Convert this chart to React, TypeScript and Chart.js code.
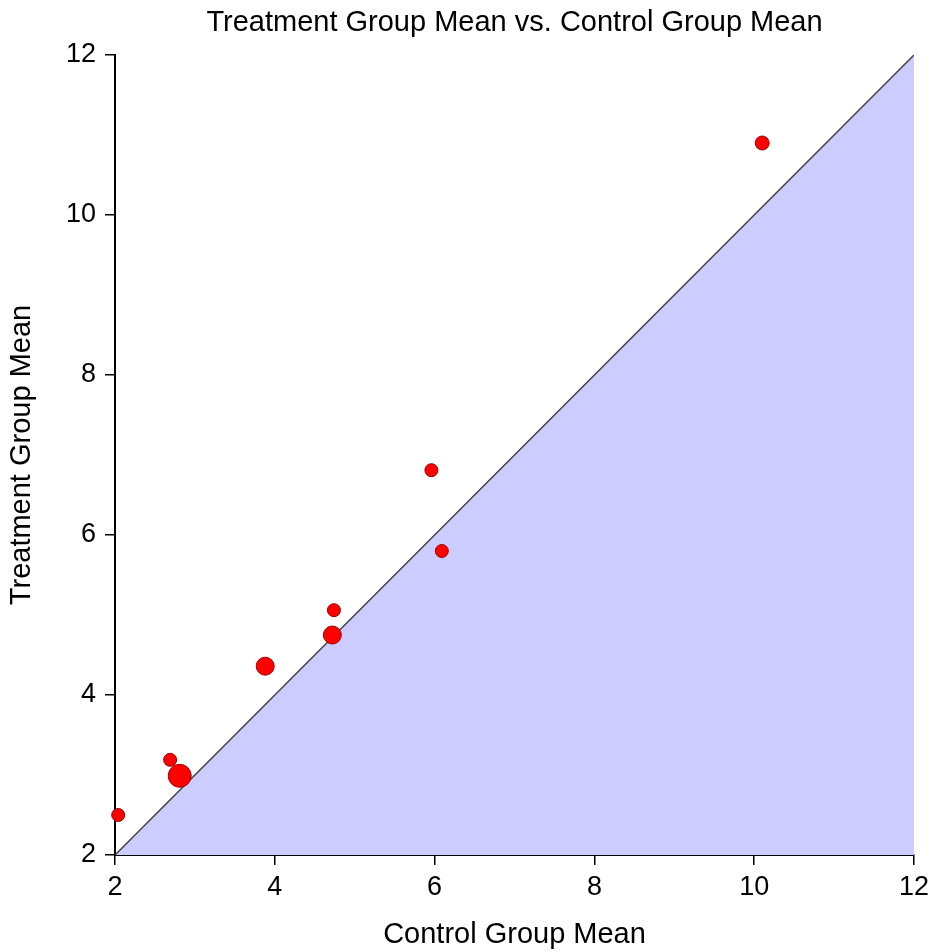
import React, { useEffect, useRef } from "react";
import { Chart, registerables } from "chart.js";

Chart.register(...registerables);

const chartTitle = "Treatment Group Mean vs. Control Group Mean";
const controlMeans = [2.04, 2.69, 2.81, 3.88, 4.72, 4.74, 5.96, 6.09, 10.1];
const treatmentMeans = [2.5, 3.19, 2.99, 4.36, 4.75, 5.06, 6.81, 5.8, 10.9];
const pointSizes = [6.5, 6.5, 11.5, 9, 9, 6.5, 6.5, 6.5, 7];
const diagonal = [2, 12];
const tickValues = [2, 4, 6, 8, 10, 12];

export default function App() {
  const ref = useRef<HTMLCanvasElement | null>(null);
  useEffect(() => {
    if (!ref.current) return;
    const font = "'Liberation Sans', Arial, sans-serif";
    const titlePlugin = {
      id: "centeredTitle",
      afterDraw(chart: any) {
        const { ctx, chartArea } = chart;
        ctx.save();
        ctx.font = `29px ${font}`;
        ctx.fillStyle = "#000";
        ctx.textAlign = "center";
        ctx.textBaseline = "middle";
        ctx.fillText(chartTitle, (chartArea.left + chartArea.right) / 2, 23);
        ctx.restore();
      },
    };
    const chart = new Chart(ref.current, {
      type: "scatter",
      data: {
        datasets: [
          {
            type: "scatter",
            data: controlMeans.map((x, i) => ({ x, y: treatmentMeans[i] })),
            backgroundColor: "#FF0000",
            borderColor: "#A00000",
            borderWidth: 1,
            pointRadius: pointSizes,
            clip: false as any,
            order: 0,
          },
          {
            type: "line",
            data: diagonal.map((v) => ({ x: v, y: v })),
            borderColor: "#404040",
            borderWidth: 1.5,
            backgroundColor: "#CCCCFF",
            fill: "start",
            pointRadius: 0,
            order: 1,
          },
        ],
      },
      options: {
        animation: false,
        responsive: false,
        layout: { padding: { left: 0, right: 19, top: 55, bottom: 0 } },
        plugins: {
          legend: { display: false },
          tooltip: { enabled: false },
          title: { display: false },
        },
        scales: {
          x: {
            type: "linear",
            min: 2,
            max: 12,
            afterFit: (s: any) => {
              s.height = 97;
              s.paddingLeft = 0;
              s.paddingRight = 0;
            },
            afterBuildTicks: (s: any) => {
              s.ticks = tickValues.map((v) => ({ value: v }));
            },
            grid: { display: true, drawOnChartArea: false, drawTicks: true, tickLength: 10, color: "#000", lineWidth: 1.5 },
            border: { display: true, color: "#000", width: 2 },
            ticks: { color: "#000", font: { family: font, size: 27 }, padding: 6, maxRotation: 0 },
            title: {
              display: true,
              text: "Control Group Mean",
              color: "#000",
              font: { family: font, size: 29 },
              padding: { top: 0, bottom: 0 },
            },
          },
          y: {
            type: "linear",
            min: 2,
            max: 12,
            afterFit: (s: any) => {
              s.width = 115;
              s.paddingTop = 0;
              s.paddingBottom = 0;
            },
            afterBuildTicks: (s: any) => {
              s.ticks = tickValues.map((v) => ({ value: v }));
            },
            grid: { display: true, drawOnChartArea: false, drawTicks: true, tickLength: 10, color: "#000", lineWidth: 1.5 },
            border: { display: true, color: "#000", width: 2 },
            ticks: { color: "#000", font: { family: font, size: 27 }, padding: 9 },
            title: {
              display: true,
              text: "Treatment Group Mean",
              color: "#000",
              font: { family: font, size: 29 },
              padding: { top: 5, bottom: 0 },
            },
          },
        },
      },
      plugins: [titlePlugin],
    } as any);
    return () => chart.destroy();
  }, []);
  return (
    <div style={{ position: "absolute", left: 0, top: 0, width: 933, height: 952, background: "#fff" }}>
      <canvas ref={ref} width={933} height={952} />
    </div>
  );
}
